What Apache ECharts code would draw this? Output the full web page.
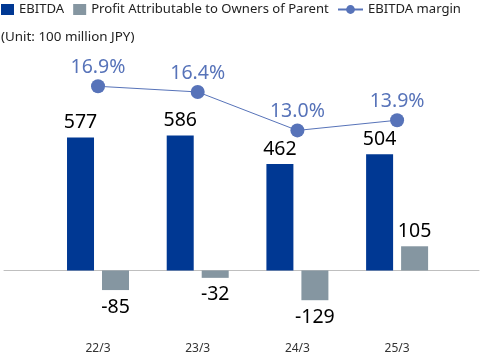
<!DOCTYPE html>
<html>
<head>
<meta charset="utf-8">
<script src="https://cdn.jsdelivr.net/npm/echarts@6/dist/echarts.min.js"></script>
<style>
html,body{margin:0;padding:0;background:#fff;}
#chart{width:480px;height:356px;}
</style>
</head>
<body>
<div id="chart"></div>
<script>
var categories = ['22/3', '23/3', '24/3', '25/3'];
var ebitda = [577, 586, 462, 504];
var profit = [-85, -32, -129, 105];
var margin = [16.9, 16.4, 13.0, 13.9];

var FONT = '"Noto Sans", sans-serif';
var C_EBITDA = '#003893';
var C_PROFIT = '#8596a1';
var C_MARGIN = '#5773b9';

function barData(values) {
  return values.map(function (v, i) {
    var item = { value: [i, v] };
    if (v < 0) item.label = { position: 'bottom', distance: 7 };
    return item;
  });
}

var chart = echarts.init(document.getElementById('chart'), null, { renderer: 'canvas' });
chart.setOption({
  animation: false,
  backgroundColor: '#fff',
  textStyle: { fontFamily: FONT },
  title: {
    text: '(Unit: 100 million JPY)',
    left: -4, top: 26,
    textStyle: { fontFamily: FONT, fontSize: 13.4, fontWeight: 'normal', color: '#222' }
  },
  legend: [{
    data: ['EBITDA', 'Profit Attributable to Owners of Parent'],
    left: 1, top: 3, padding: 0,
    itemWidth: 13, itemHeight: 11, itemGap: 9,
    icon: 'rect',
    textStyle: { fontFamily: FONT, fontSize: 13.1, color: '#222' }
  }, {
    data: ['EBITDA margin'],
    left: 337, top: 3, padding: 0,
    itemWidth: 25, itemHeight: 11,
    textStyle: { fontFamily: FONT, fontSize: 13.1, color: '#222' }
  }],
  grid: { left: 4, right: 1, top: 40, height: 290.4, outerBoundsMode: 'none', containLabel: false },
  xAxis: {
    type: 'value',
    min: -0.943, max: 3.8215,
    axisLine: { show: true, onZero: true, onZeroAxisIndex: 0, lineStyle: { color: '#bfbfbf', width: 1 } },
    axisTick: { show: false },
    splitLine: { show: false },
    axisLabel: {
      customValues: [0, 1, 2, 3],
      formatter: function (v) { return categories[Math.round(v)] || ''; },
      margin: 12,
      fontFamily: FONT, fontSize: 12, color: '#333'
    }
  },
  yAxis: [{
    type: 'value', min: -260, max: 1000,
    show: false, splitLine: { show: false }
  }, {
    type: 'value', min: -4.67, max: 20.99,
    show: false, splitLine: { show: false }
  }],
  series: [{
    name: 'EBITDA',
    type: 'bar',
    yAxisIndex: 0,
    barWidth: 27,
    barGap: '29.6%',
    itemStyle: { color: C_EBITDA },
    label: { show: true, position: 'top', distance: 5, fontFamily: FONT, fontSize: 19.5, color: '#000',
      formatter: function (p) { return p.value[1]; } },
    data: barData(ebitda)
  }, {
    name: 'Profit Attributable to Owners of Parent',
    type: 'bar',
    yAxisIndex: 0,
    barWidth: 27,
    barGap: '29.6%',
    itemStyle: { color: C_PROFIT },
    label: { show: true, position: 'top', distance: 5, fontFamily: FONT, fontSize: 19.5, color: '#000',
      formatter: function (p) { return p.value[1]; } },
    data: barData(profit)
  }, {
    name: 'EBITDA margin',
    type: 'line',
    yAxisIndex: 1,
    symbol: 'circle',
    symbolSize: 14,
    lineStyle: { color: C_MARGIN, width: 1 },
    itemStyle: { color: C_MARGIN },
    label: { show: true, position: 'top', distance: 2, fontFamily: FONT, fontSize: 19.5, color: C_MARGIN,
      formatter: function (p) { return p.value[1].toFixed(1) + '%'; } },
    data: margin.map(function (v, i) { return [i, v]; })
  }]
});
</script>
</body>
</html>
